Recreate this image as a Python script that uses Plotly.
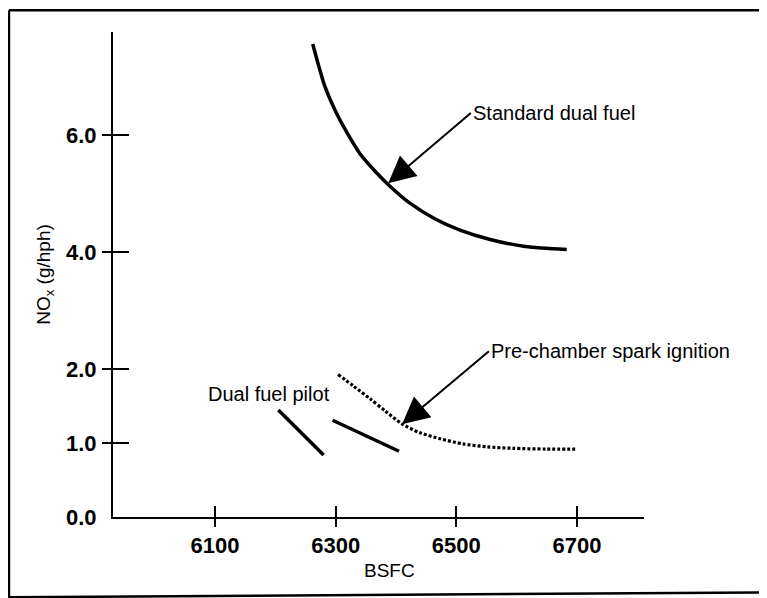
import plotly.graph_objects as go

# ---------------- data ----------------
bsfc_std = [6262, 6271, 6282, 6299, 6319, 6340, 6365, 6390, 6423, 6465, 6506, 6556, 6614, 6683]
nox_std = [7.56, 7.22, 6.84, 6.43, 6.04, 5.69, 5.39, 5.13, 4.84, 4.57, 4.38, 4.22, 4.10, 4.05]

bsfc_pre = [6304, 6330, 6357, 6383, 6410, 6440, 6473, 6511, 6551, 6594, 6649, 6697]
nox_pre = [1.93, 1.77, 1.60, 1.43, 1.26, 1.14, 1.06, 0.99, 0.95, 0.93, 0.92, 0.92]

bsfc_pilot_a = [6205, 6280]
nox_pilot_a = [1.45, 0.84]
bsfc_pilot_b = [6295, 6405]
nox_pilot_b = [1.31, 0.89]

x_tick_values = [6100, 6300, 6500, 6700]
x_tick_labels = ["6100", "6300", "6500", "6700"]
y_tick_values = [0.0, 1.0, 2.0, 4.0, 6.0]
y_tick_labels = ["0.0", "1.0", "2.0", "4.0", "6.0"]

# The original y axis is drawn with a compressed scale above 2.0
BREAK = 2.0
UPPER_SCALE = 0.792


def fold(v):
    return v if v <= BREAK else BREAK + (v - BREAK) * UPPER_SCALE


def fold_list(vals):
    return [fold(v) for v in vals]


FONT = "Liberation Sans, Arial, Helvetica, sans-serif"
INK = "#000000"

fig = go.Figure()

fig.add_trace(go.Scatter(
    x=bsfc_std, y=fold_list(nox_std), customdata=nox_std,
    mode="lines", line=dict(color=INK, width=3.5, shape="spline", smoothing=0.8),
    name="Standard dual fuel", hovertemplate="%{x}, %{customdata}<extra></extra>"))
fig.add_trace(go.Scatter(
    x=bsfc_pre, y=fold_list(nox_pre), customdata=nox_pre,
    mode="lines", line=dict(color=INK, width=3.2, shape="spline", smoothing=0.8,
                            dash="3px,2px"),
    name="Pre-chamber spark ignition", hovertemplate="%{x}, %{customdata}<extra></extra>"))
fig.add_trace(go.Scatter(
    x=bsfc_pilot_a, y=fold_list(nox_pilot_a), customdata=nox_pilot_a,
    mode="lines", line=dict(color=INK, width=3.5),
    name="Dual fuel pilot", hovertemplate="%{x}, %{customdata}<extra></extra>"))
fig.add_trace(go.Scatter(
    x=bsfc_pilot_b, y=fold_list(nox_pilot_b), customdata=nox_pilot_b,
    mode="lines", line=dict(color=INK, width=3.5),
    name="Dual fuel pilot", hovertemplate="%{x}, %{customdata}<extra></extra>"))
# helper trace so the overlay axes (outer half of the crossing ticks) exist
fig.add_trace(go.Scatter(x=[], y=[], xaxis="x2", yaxis="y2", showlegend=False,
                         hoverinfo="skip"))

x_range = [5931, 6811]
y_range = [0, 6.567]

# page body adds an 8px margin, so the figure is 8px smaller than the window
fig.update_layout(
    width=759, height=590,
    margin=dict(l=105, r=123, t=24, b=81),
    paper_bgcolor="white", plot_bgcolor="white",
    showlegend=False,
    font=dict(family=FONT, color=INK, size=19),
    xaxis=dict(
        range=x_range, showgrid=False, zeroline=False,
        showline=True, linecolor=INK, linewidth=2,
        ticks="inside", ticklen=11, tickwidth=2, tickcolor=INK,
        tickvals=x_tick_values, ticktext=x_tick_labels,
        tickfont=dict(family=FONT, size=22, weight="bold", color=INK),
        ticklabelstandoff=8,
    ),
    yaxis=dict(
        range=y_range, showgrid=False, zeroline=False,
        showline=True, linecolor=INK, linewidth=2,
        ticks="inside", ticklen=16, tickwidth=2, tickcolor=INK,
        tickvals=fold_list(y_tick_values), ticktext=y_tick_labels,
        tickfont=dict(family=FONT, size=22, weight="bold", color=INK),
        ticklabelstandoff=10,
        title=dict(text="NO<sub>x</sub> (g/hph)", font=dict(family=FONT, size=19),
                   standoff=10),
    ),
    xaxis2=dict(
        overlaying="x", matches="x", anchor="y", side="bottom",
        showgrid=False, zeroline=False, showline=False,
        ticks="outside", ticklen=9, tickwidth=2, tickcolor=INK,
        tickvals=x_tick_values, showticklabels=False,
    ),
    yaxis2=dict(
        overlaying="y", matches="y", anchor="x", side="left",
        showgrid=False, zeroline=False, showline=False,
        ticks="outside", ticklen=10, tickwidth=2, tickcolor=INK,
        tickvals=fold_list(y_tick_values[1:]), showticklabels=False,
    ),
)

# x axis title, placed slightly right of centre as in the original
fig.add_annotation(x=6390, y=-0.11, xref="x", yref="paper", text="BSFC",
                   showarrow=False, xanchor="center", yanchor="middle",
                   font=dict(family=FONT, size=19, color=INK))

# ---------------- labelled arrows ----------------
callout = dict(showarrow=True, arrowhead=2, arrowsize=2.7, arrowwidth=2,
               arrowcolor=INK, axref="x", ayref="y", xref="x", yref="y",
               xanchor="left", yanchor="middle",
               font=dict(family=FONT, size=20, color=INK))
fig.add_annotation(x=6387, y=fold(5.18), ax=6524, ay=fold(6.38),
                   text="Standard dual fuel", **callout)
fig.add_annotation(x=6410, y=fold(1.255), ax=6554, ay=fold(2.31),
                   text="Pre-chamber spark ignition", **callout)

fig.add_annotation(x=6085, y=fold(1.66), text="Dual fuel pilot", showarrow=False,
                   xref="x", yref="y", xanchor="left", yanchor="middle",
                   font=dict(family=FONT, size=20, color=INK))

# ---------------- frame around the figure (scanned page border) ----------------
border = dict(type="line", xref="paper", yref="paper",
              line=dict(color=INK, width=2.5))
fig.add_shape(x0=-0.1959, y0=1.0447, x1=-0.1959, y1=-0.18, **border)
fig.add_shape(x0=-0.1959, y0=1.0447, x1=1.25, y1=1.0447, **border)
fig.add_shape(x0=-0.1959, y0=-0.1656, x1=1.25, y1=-0.1553, **border)

fig.write_html("out.html")
